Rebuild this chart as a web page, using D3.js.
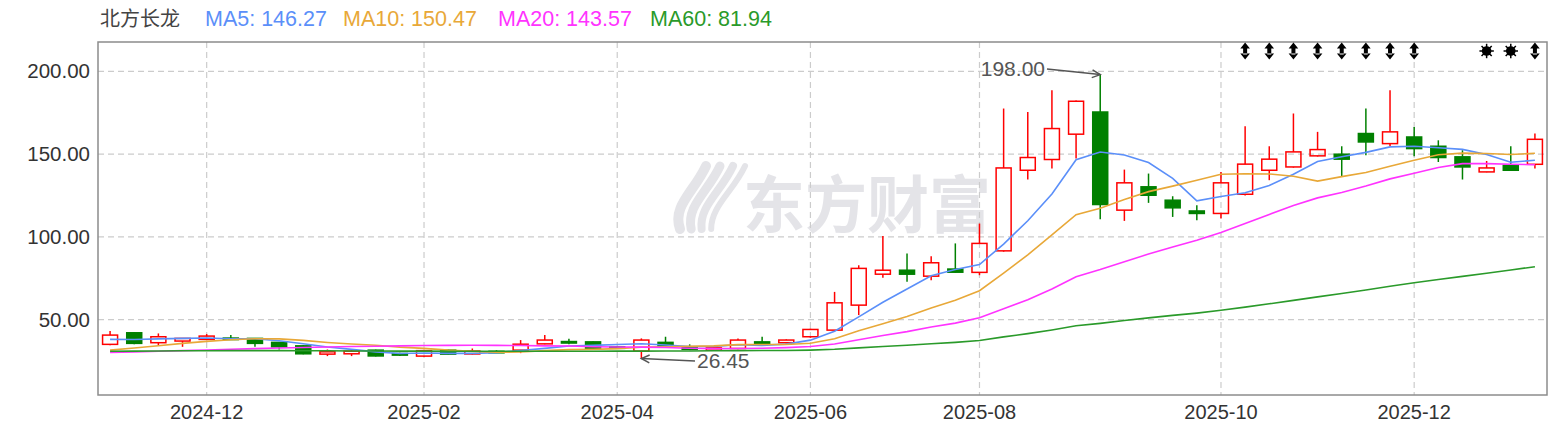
<!DOCTYPE html>
<html>
<head>
<meta charset="utf-8">
<script src="https://cdn.jsdelivr.net/npm/d3@7"></script>
<style>
  body { margin: 0; background: #fff; }
  svg { display: block; }
</style>
</head>
<body>
<div id="chart"></div>
<script>
// weekly candles, oldest first
var openP  = [35.0,42.0,36.0,37.0,38.0,38.8,38.6,36.2,34.1,29.1,29.3,31.5,29.5,27.9,31.5,29.2,30.8,31.5,35.3,36.7,36.5,33.5,30.9,36.2,33.1,31.5,32.5,36.5,36.0,39.6,
              43.6,58.7,77.4,79.8,76.2,80.5,78.5,91.5,140.2,146.7,162.0,175.4,116.1,130.2,122.1,115.6,114.1,125.7,140.2,142.2,148.9,149.9,162.4,156.3,160.3,154.7,148.3,139.2,143.2,143.8];
var highP  = [43.0,42.5,41.6,38.8,41.2,40.6,38.8,36.5,34.5,31.9,31.5,31.8,30.0,31.8,31.8,32.5,31.5,37.6,40.6,38.4,36.8,34.0,38.6,39.6,35.0,33.2,38.6,39.6,38.0,44.5,
              66.7,82.8,100.5,89.9,88.3,96.0,108.0,177.5,175.4,188.5,182.3,198.0,140.6,138.2,124.5,119.1,139.2,166.8,154.7,174.5,163.4,154.7,177.5,188.5,166.4,158.3,152.3,145.8,154.7,162.4];
var lowP   = [34.5,35.0,34.5,33.5,37.5,38.0,33.5,31.9,29.0,27.9,27.9,27.7,28.0,27.5,28.8,28.9,29.8,29.7,35.0,35.0,32.2,32.5,26.45,33.0,31.5,31.3,32.0,35.2,35.5,39.0,
              43.0,52.7,75.2,72.8,73.8,78.2,76.8,91.0,134.6,141.2,147.3,110.6,109.6,120.5,112.0,110.0,111.0,125.0,134.2,141.8,148.5,136.2,149.3,154.7,148.7,145.2,134.6,139.0,139.8,141.2];
var closeP = [40.6,35.6,39.6,38.6,40.0,38.3,35.6,33.5,29.3,30.5,30.9,28.0,28.5,31.2,29.1,31.0,30.2,35.1,37.6,36.3,32.6,32.8,37.6,33.7,32.0,32.9,37.6,35.6,37.6,44.0,
              60.1,80.9,79.8,77.4,84.3,78.6,96.0,141.6,147.9,165.4,181.9,119.5,132.6,125.1,117.5,114.1,132.6,143.9,146.9,151.3,152.7,146.9,157.3,163.4,153.3,147.9,142.2,141.6,140.2,158.9];

// moving averages
var ma5  = [38.0,37.9,38.3,38.6,38.88,38.42,38.42,37.2,35.34,33.44,31.96,30.44,29.44,29.82,29.54,29.56,30.0,31.32,32.6,34.04,34.36,34.88,35.38,34.6,33.74,33.8,34.76,34.36,35.14,37.54,
            42.98,51.64,60.48,68.44,76.5,80.2,83.22,95.58,109.68,125.9,146.56,151.26,149.46,144.9,135.32,121.76,124.38,126.64,131.0,137.76,145.48,148.34,151.02,154.32,154.72,153.76,152.82,149.68,145.04,146.27];
var ma10 = [31.5,32.8,34.2,35.6,36.8,37.8,38.4,38.3,37.4,36.16,35.19,34.43,33.32,32.58,31.49,30.76,30.22,30.38,31.21,31.79,31.96,32.44,33.35,33.6,33.89,34.08,34.82,34.87,34.87,35.64,
            38.39,43.2,47.42,51.79,57.02,61.59,67.43,78.03,89.06,101.2,113.38,117.24,122.52,127.29,130.61,134.16,137.82,138.05,137.95,136.54,133.62,136.36,138.83,142.66,146.24,149.62,150.58,150.35,149.68,150.47];
var ma20 = [30.1,30.4,30.8,31.2,31.6,32.0,32.4,32.8,33.1,33.4,33.7,33.9,34.1,34.3,34.4,34.5,34.4,34.3,34.1,33.98,33.58,33.44,33.34,33.09,32.69,32.42,32.52,32.63,33.04,33.72,
            35.18,37.82,40.39,42.7,45.46,47.84,51.13,56.45,61.97,68.42,75.89,80.22,84.97,89.54,93.82,97.88,102.63,108.04,113.5,118.87,123.5,126.8,130.68,134.98,138.43,141.89,144.2,144.2,143.82,143.57];
var ma60 = [30.8,30.9,31.0,31.1,31.1,31.2,31.2,31.2,31.1,31.1,31.0,31.0,30.9,30.9,30.8,30.8,30.8,30.8,30.8,30.8,30.8,30.9,30.9,31.0,31.0,31.1,31.2,31.3,31.3,31.5,
            32.0,32.9,33.7,34.5,35.4,36.2,37.3,39.5,41.5,43.7,46.2,47.7,49.4,51.0,52.5,53.9,55.6,57.5,59.5,61.6,63.7,65.7,67.8,70.1,72.2,74.2,76.1,78.0,79.9,81.94];

// axis labels
var tickIdx    = [4, 13, 21, 29, 36, 46, 54];
var tickLabels = ["2024-12","2025-02","2025-04","2025-06","2025-08","2025-10","2025-12"];
var yTicks     = [50, 100, 150, 200];

// event flags along the top
var arrowFlagIdx = [47, 48, 49, 50, 51, 52, 53, 54, 59];
var sunFlagIdx   = [57, 58];

var stockName = "北方长龙";
var maNames   = ["MA5", "MA10", "MA20", "MA60"];
var maColors  = ["#5b8ff9", "#e8a838", "#ff33ff", "#2a9a2a"];
var maSeries  = [ma5, ma10, ma20, ma60];

var W = 1557, H = 427;
var plotL = 98, plotR = 1547, plotT = 42, plotB = 395;
var upColor = "#ff0000", downColor = "#008000";
var latin = "'Liberation Sans', Arial, sans-serif";

var svg = d3.select("#chart").append("svg")
  .attr("width", W).attr("height", H)
  .style("font-family", latin);

var x = d3.scaleBand().domain(d3.range(closeP.length)).range([plotL, plotR]).padding(0);
var y = d3.scaleLinear().domain([4.4, 217.7]).range([plotB, plotT]);
var cx = function(i) { return x(i) + x.bandwidth() / 2; };
var bodyW = 15;

// watermark
svg.append("text")
  .attr("x", 743).attr("y", 228).attr("fill", "#e4e4e8")
  .style("font-family", "'Noto Sans CJK SC', sans-serif")
  .style("font-weight", "bold").style("font-size", "62px")
  .text("东方财富");
var logo = svg.append("g").attr("fill", "none").attr("stroke", "#e4e4e8").attr("stroke-linecap", "round");
[[0, 10], [14, 9], [27, 8], [39, 6]].forEach(function(p) {
  logo.append("path")
    .attr("stroke-width", p[1])
    .attr("d", "M" + (680 + p[0] * 0.8) + ",229 C" + (672 + p[0]) + ",206 " + (694 + p[0]) + ",192 " + (706 + p[0]) + ",166");
});

// grid
svg.append("g").selectAll("line").data(yTicks).enter().append("line")
  .attr("x1", plotL).attr("x2", plotR)
  .attr("y1", function(d) { return y(d); }).attr("y2", function(d) { return y(d); })
  .attr("stroke", "#cccccc").attr("stroke-width", 1.2).attr("stroke-dasharray", "6,4");
svg.append("g").selectAll("line").data(tickIdx).enter().append("line")
  .attr("x1", function(d) { return cx(d); }).attr("x2", function(d) { return cx(d); })
  .attr("y1", plotT).attr("y2", plotB)
  .attr("stroke", "#cccccc").attr("stroke-width", 1.2).attr("stroke-dasharray", "6,4");

// frame
svg.append("rect")
  .attr("x", plotL).attr("y", plotT)
  .attr("width", plotR - plotL).attr("height", plotB - plotT)
  .attr("fill", "none").attr("stroke", "#8c8c8c").attr("stroke-width", 1.5);

// y labels
svg.append("g").selectAll("text").data(yTicks).enter().append("text")
  .attr("x", 90).attr("y", function(d) { return y(d); })
  .attr("dy", "0.35em").attr("text-anchor", "end")
  .style("font-size", "20.5px").attr("fill", "#333")
  .text(function(d) { return d3.format(".2f")(d); });

// x labels
svg.append("g").selectAll("text").data(tickIdx).enter().append("text")
  .attr("x", function(d) { return cx(d); }).attr("y", 419)
  .attr("text-anchor", "middle")
  .style("font-size", "20px").attr("fill", "#333")
  .text(function(d, i) { return tickLabels[i]; });

// candles
var candles = svg.append("g").selectAll("g").data(closeP).enter().append("g");
candles.each(function(c, i) {
  var g = d3.select(this);
  var o = openP[i], up = c >= o;
  var col = up ? upColor : downColor;
  var top = y(Math.max(o, c)), bot = y(Math.min(o, c));
  g.append("line").attr("x1", cx(i)).attr("x2", cx(i))
    .attr("y1", y(highP[i])).attr("y2", top)
    .attr("stroke", col).attr("stroke-width", 1.5);
  g.append("line").attr("x1", cx(i)).attr("x2", cx(i))
    .attr("y1", bot).attr("y2", y(lowP[i]))
    .attr("stroke", col).attr("stroke-width", 1.5);
  g.append("rect")
    .attr("x", cx(i) - bodyW / 2).attr("y", top)
    .attr("width", bodyW).attr("height", Math.max(1.5, bot - top))
    .attr("fill", up ? "none" : col)
    .attr("stroke", col).attr("stroke-width", 1.5);
});

// moving averages
var line = d3.line().x(function(d, i) { return cx(i); }).y(function(d) { return y(d); });
maSeries.forEach(function(s, k) {
  svg.append("path").datum(s)
    .attr("d", line)
    .attr("fill", "none").attr("stroke", maColors[k]).attr("stroke-width", 1.6);
});

// high / low annotations
function annotate(i, val, tx, ty, anchor) {
  var px = cx(i), py = y(val);
  svg.append("text")
    .attr("x", tx).attr("y", ty).attr("dy", "0.35em")
    .attr("text-anchor", anchor)
    .style("font-size", "21px").attr("fill", "#555")
    .text(d3.format(".2f")(val));
  var sx = anchor === "end" ? tx + 2 : tx - 2;
  svg.append("line").attr("x1", sx).attr("y1", ty).attr("x2", px).attr("y2", py)
    .attr("stroke", "#555").attr("stroke-width", 1.5);
  var ang = Math.atan2(py - ty, px - sx), a = 9, w = 0.45;
  svg.append("path")
    .attr("d", "M" + (px - a * Math.cos(ang - w)) + "," + (py - a * Math.sin(ang - w)) +
               "L" + px + "," + py +
               "L" + (px - a * Math.cos(ang + w)) + "," + (py - a * Math.sin(ang + w)))
    .attr("fill", "none").attr("stroke", "#555").attr("stroke-width", 1.5);
}
var hiIdx = d3.maxIndex(highP), loIdx = d3.minIndex(lowP);
annotate(hiIdx, highP[hiIdx], 1045, 69, "end");
annotate(loIdx, lowP[loIdx], 697, 361, "start");

// flags
var flagY = 51;
svg.append("g").selectAll("path").data(arrowFlagIdx).enter().append("path")
  .attr("d", function(i) {
    var c = cx(i);
    return "M" + (c - 4.8) + "," + (flagY - 2.5) + "L" + c + "," + (flagY - 8.5) + "L" + (c + 4.8) + "," + (flagY - 2.5) + "Z" +
           "M" + (c - 4.8) + "," + (flagY + 2.5) + "L" + c + "," + (flagY + 8.5) + "L" + (c + 4.8) + "," + (flagY + 2.5) + "Z" +
           "M" + (c - 2) + "," + (flagY - 3.5) + "H" + (c + 2) + "V" + (flagY + 3.5) + "H" + (c - 2) + "Z";
  })
  .attr("fill", "#000");
var suns = svg.append("g").selectAll("g").data(sunFlagIdx).enter().append("g")
  .attr("transform", function(i) { return "translate(" + cx(i) + "," + flagY + ")"; });
suns.append("circle").attr("r", 4.8).attr("fill", "#000");
suns.selectAll("line").data(d3.range(8)).enter().append("line")
  .attr("x1", 0).attr("y1", 0)
  .attr("x2", function(k) { return 7.2 * Math.cos(k * Math.PI / 4); })
  .attr("y2", function(k) { return 7.2 * Math.sin(k * Math.PI / 4); })
  .attr("stroke", "#000").attr("stroke-width", 1.5);

// title + legend
var legendX = [205, 343, 498, 650];
svg.append("text").attr("x", 100).attr("y", 26)
  .style("font-family", "'Noto Sans CJK SC', sans-serif")
  .style("font-size", "20px").attr("fill", "#444").text(stockName);
maNames.forEach(function(n, k) {
  var s = maSeries[k];
  svg.append("text").attr("x", legendX[k]).attr("y", 26)
    .style("font-size", "21.5px").attr("fill", maColors[k])
    .text(n + ": " + d3.format(".2f")(s[s.length - 1]));
});
</script>
</body>
</html>
